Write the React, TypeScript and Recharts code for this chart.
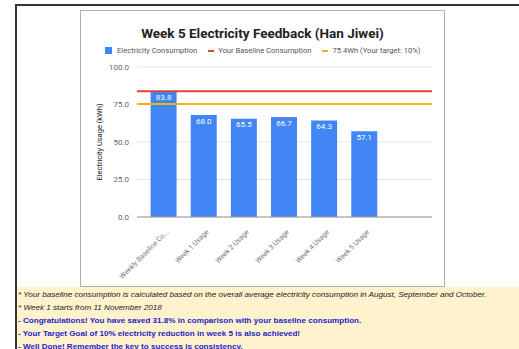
import {
  Bar,
  BarChart,
  CartesianGrid,
  LabelList,
  ReferenceLine,
  XAxis,
  YAxis,
} from "recharts";

const categories = [
  "Weekly Baseline Consumption",
  "Week 1 Usage",
  "Week 2 Usage",
  "Week 3 Usage",
  "Week 4 Usage",
  "Week 5 Usage",
];
const usage = [83.8, 68.0, 65.5, 66.7, 64.3, 57.1];
const baseline = 83.8;
const target = 75.4;
const yTicks = [0, 25, 50, 75, 100];

const legendItems = [
  { label: "Electricity Consumption", color: "#4285f4", kind: "square" },
  { label: "Your Baseline Consumption", color: "#db4437", kind: "line" },
  { label: "75.4Wh (Your target: 10%)", color: "#f4b400", kind: "line" },
];

const notes = [
  { text: "* Your baseline consumption is calculated based on the overall average electricity consumption in August, September and October.", bold: false },
  { text: "* Week 1 starts from 11 November 2018", bold: false },
  { text: "- Congratulations! You have saved 31.8% in comparison with your baseline consumption.", bold: true },
  { text: "- Your Target Goal of 10% electricity reduction in week 5 is also achieved!", bold: true },
  { text: "- Well Done! Remember the key to success is consistency.", bold: true },
];

const data = categories.map((name, i) => ({ name, usage: usage[i] }));

const chartFont = "Roboto, Arial, sans-serif";

function AngledTick(props: any) {
  const { x, y, payload } = props;
  const v: string = payload.value;
  const text = v.length > 19 ? v.slice(0, 18) + "..." : v;
  return (
    <g transform={`translate(${x + 4},${y + 6})`}>
      <text
        textAnchor="end"
        transform="rotate(-45)"
        fontSize={7}
        fill="#777"
        fontFamily={chartFont}
        dy={2}
      >
        {text}
      </text>
    </g>
  );
}

export default function App() {
  return (
    <div
      style={{
        position: "absolute",
        left: 0,
        top: 0,
        width: 519,
        height: 349,
        overflow: "hidden",
        background: "#fff",
      }}
    >
      {/* page frame */}
      <div style={{ position: "absolute", left: 15, top: 4, width: 504, height: 2, background: "#333" }} />
      <div style={{ position: "absolute", left: 15, top: 4, width: 2, height: 345, background: "#333" }} />
      <div style={{ position: "absolute", left: 17, top: 287, width: 502, height: 62, background: "#fff2cc" }} />

      {/* chart card */}
      <div
        style={{
          position: "absolute",
          left: 80,
          top: 10,
          width: 363,
          height: 275,
          border: "1px solid #b0b0b0",
          background: "#fff",
        }}
      >
        <div
          style={{
            position: "absolute",
            top: 14,
            width: "100%",
            textAlign: "center",
            fontFamily: chartFont,
            fontWeight: "bold",
            fontSize: 13.5,
            color: "#222",
          }}
        >
          Week 5 Electricity Feedback (Han Jiwei)
        </div>
        <div
          style={{
            position: "absolute",
            top: 35,
            left: 24,
            display: "flex",
            fontFamily: chartFont,
            fontSize: 7.6,
            color: "#555",
            whiteSpace: "nowrap",
          }}
        >
          {legendItems.map((it) => (
            <div key={it.label} style={{ display: "flex", alignItems: "center", marginRight: 11 }}>
              {it.kind === "square" ? (
                <span style={{ width: 7, height: 7, background: it.color, marginRight: 5 }} />
              ) : (
                <span style={{ width: 6, height: 2, background: it.color, marginRight: 4 }} />
              )}
              {it.label}
            </div>
          ))}
        </div>
        <BarChart
          width={363}
          height={275}
          data={data}
          margin={{ top: 56, right: 12, left: 0, bottom: 0 }}
          style={{ position: "absolute", left: 0, top: 0 }}
        >
          <CartesianGrid vertical={false} stroke="#e4e4e4" />
          <XAxis
            dataKey="name"
            interval={0}
            height={69}
            padding={{ left: 6.6, right: 47.6 }}
            tick={<AngledTick />}
            tickLine={false}
            axisLine={{ stroke: "#999", strokeWidth: 1 }}
          />
          <YAxis
            width={56}
            domain={[0, 100]}
            ticks={yTicks}
            tickFormatter={(v: number) => v.toFixed(1)}
            tick={{ fontSize: 8, fill: "#666", fontFamily: chartFont }}
            tickLine={false}
            axisLine={false}
            label={{
              value: "Electricity Usage (kWh)",
              angle: -90,
              position: "insideLeft",
              offset: 18,
              style: { textAnchor: "middle", fontSize: 7.5, fill: "#222", fontFamily: chartFont },
            }}
          />
          <Bar dataKey="usage" fill="#4285f4" barSize={26} isAnimationActive={false}>
            <LabelList
              dataKey="usage"
              position="insideTop"
              offset={3}
              formatter={(v: any) => Number(v).toFixed(1)}
              style={{ fill: "#fff", fontSize: 8, fontFamily: chartFont }}
            />
          </Bar>
          <ReferenceLine y={baseline} stroke="#db4437" strokeWidth={2} ifOverflow="extendDomain" />
          <ReferenceLine y={target} stroke="#f4b400" strokeWidth={2} />
        </BarChart>
      </div>

      {/* notes */}
      {notes.map((n, i) => (
        <div
          key={i}
          style={{
            position: "absolute",
            left: 18,
            top: 288.5 + i * 13,
            fontFamily: "'Liberation Sans', Arial, sans-serif",
            fontSize: 8.1,
            fontStyle: n.bold ? "normal" : "italic",
            fontWeight: n.bold ? "bold" : "normal",
            color: n.bold ? "#2424c8" : "#222",
            whiteSpace: "nowrap",
            lineHeight: "11px",
          }}
        >
          {n.text}
        </div>
      ))}
    </div>
  );
}
